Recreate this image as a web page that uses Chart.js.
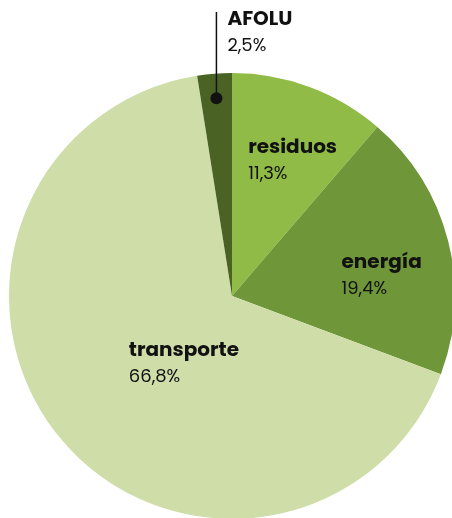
<!DOCTYPE html>
<html>
<head>
<meta charset="utf-8">
<script src="https://cdn.jsdelivr.net/npm/chart.js@4"></script>
<style>
  html, body { margin: 0; padding: 0; background: #fff; overflow: hidden; width: 452px; height: 518px; }
  #myChart { display: block; }
</style>
</head>
<body>
<canvas id="myChart" width="464" height="530"></canvas>
<script>
// data
const categories = ['residuos', 'energía', 'transporte', 'AFOLU'];
const shares = [11.3, 19.4, 66.8, 2.5];
const shareLabels = ['11,3%', '19,4%', '66,8%', '2,5%'];
const colors = ['#8fbb46', '#6f9638', '#cfdea9', '#4a6325'];

const fontFamily = 'Poppins, Inter, "Open Sans", sans-serif';

// where each label sits: angle offset (deg) from slice middle, radius fraction
const labelPlace = [
  { da: -13.9, rf: 0.645 },
  { da: 0, rf: 0.507 },
  { da: 9.1, rf: 0.535 },
  null // leader line
];

const sliceLabels = {
  id: 'sliceLabels',
  afterDatasetsDraw(chart) {
    const ctx = chart.ctx;
    const arcs = chart.getDatasetMeta(0).data;
    ctx.save();
    ctx.fillStyle = '#111';
    ctx.textAlign = 'left';
    ctx.textBaseline = 'alphabetic';
    arcs.forEach((arc, i) => {
      const mid = (arc.startAngle + arc.endAngle) / 2;
      const p = labelPlace[i];
      let x, y;
      if (p) {
        const a = mid + p.da * Math.PI / 180;
        x = arc.x + Math.cos(a) * arc.outerRadius * p.rf;
        y = arc.y + Math.sin(a) * arc.outerRadius * p.rf;
      } else {
        // leader line from a dot inside the slice up to the top
        const dx = arc.x + Math.cos(mid) * arc.outerRadius * 0.89;
        const dy = arc.y + Math.sin(mid) * arc.outerRadius * 0.89;
        ctx.strokeStyle = '#111';
        ctx.lineWidth = 1.5;
        ctx.beginPath();
        ctx.moveTo(dx, dy);
        ctx.lineTo(dx, 12);
        ctx.stroke();
        ctx.beginPath();
        ctx.arc(dx, dy, 6, 0, Math.PI * 2);
        ctx.fill();
        x = dx + 11;
        y = 25;
      }
      ctx.font = 'bold 20px ' + fontFamily;
      ctx.fillText(categories[i], x, y);
      ctx.font = '18px ' + fontFamily;
      ctx.fillText(shareLabels[i], x, y + 26);
    });
    ctx.restore();
  }
};

const chart = new Chart(document.getElementById('myChart').getContext('2d'), {
  type: 'pie',
  data: {
    labels: categories,
    datasets: [{
      data: shares,
      backgroundColor: colors,
      borderWidth: 0
    }]
  },
  options: {
    responsive: false,
    animation: false,
    layout: { padding: { left: 9, right: 9, top: 73, bottom: 11 } },
    plugins: {
      legend: { display: false },
      tooltip: { enabled: false }
    }
  },
  plugins: [sliceLabels]
});
</script>
</body>
</html>
